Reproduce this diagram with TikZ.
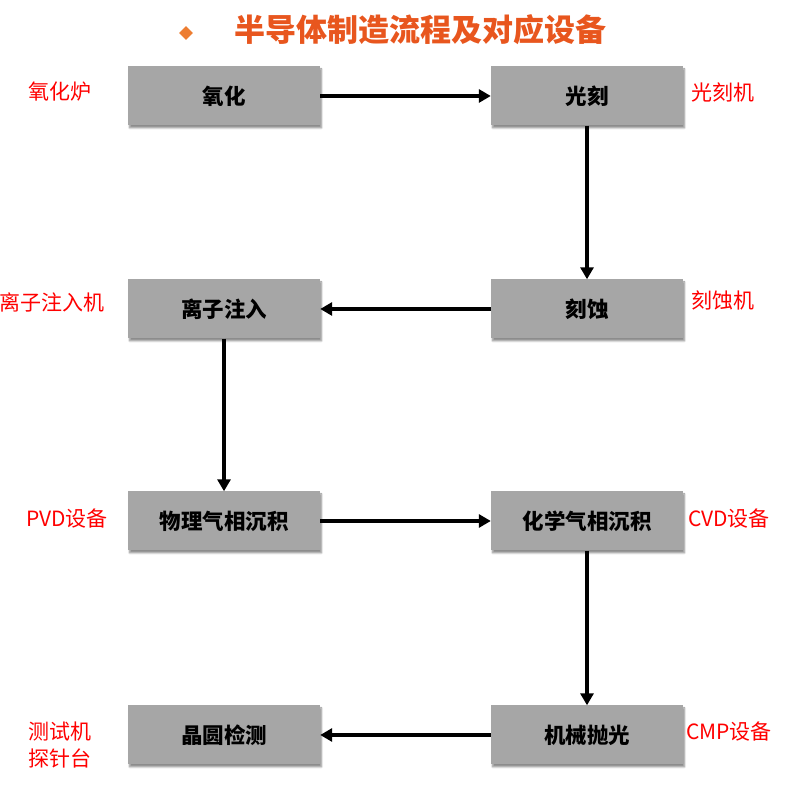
\documentclass[tikz,border=0pt]{standalone}
\usepackage{fontspec}
\newfontfamily\cjk{Noto Sans CJK SC}
\usepackage{color}
\definecolor{boxgray}{RGB}{166,166,166}
\definecolor{titleorange}{RGB}{232,86,30}
\definecolor{dotorange}{RGB}{237,125,49}
\definecolor{labelred}{RGB}{255,0,0}
\usepackage{tikz}
\usetikzlibrary{arrows.meta}
\usetikzlibrary{shadows.blur}
\usetikzlibrary{shapes.geometric}
\newcommand{\widthstep}{192pt}
\newcommand{\heightstep}{59pt}
\tikzset{
    stepbox/.style={rectangle, fill=boxgray, minimum width=\widthstep, minimum height=\heightstep,
        font=\cjk\bfseries\fontsize{21.5}{24}\selectfont, text=black,
        blur shadow={shadow xshift=1.5pt, shadow yshift=-2.5pt, shadow blur steps=6, shadow opacity=45}},
    device/.style={text=labelred, font=\cjk\fontsize{21}{27}\selectfont, align=center},
    flow/.style={line width=3.6pt, -{Triangle[length=12pt, width=13pt]}}
}

\begin{document}
\begin{tikzpicture}[x=1pt, y=1pt]
        \useasboundingbox (0,0) rectangle (793,799);

        % title
        \node[diamond, fill=dotorange, minimum size=14pt, inner sep=0pt] (dot) at (186,766) {};
        \node[text=titleorange, font=\cjk\bfseries\fontsize{31}{34}\selectfont] (title) at (420,769) {半导体制造流程及对应设备};

        % process steps
        \node[stepbox] (ox) at (224,703) {氧化};
        \node[stepbox] (litho) at (587,703) {光刻};
        \node[stepbox] (etch) at (587,490) {刻蚀};
        \node[stepbox] (implant) at (224,490) {离子注入};
        \node[stepbox] (pvd) at (224,278) {物理气相沉积};
        \node[stepbox] (cvd) at (587,278) {化学气相沉积};
        \node[stepbox] (cmp) at (587,64) {机械抛光};
        \node[stepbox] (test) at (224,64) {晶圆检测};

        % equipment
        \node[device] (oxdev) at (60,707) {氧化炉};
        \node[device] (lithodev) at (723,707) {光刻机};
        \node[device] (implantdev) at (52,497) {离子注入机};
        \node[device] (etchdev) at (723,499) {刻蚀机};
        \node[device] (pvddev) at (67,280) {PVD设备};
        \node[device] (cvddev) at (729,280) {CVD设备};
        \node[device] (testdev) at (60,54) {测试机\\探针台};
        \node[device] (cmpdev) at (729,67) {CMP设备};

        \draw[flow] (ox) -- (litho);
        \draw[flow] (litho) -- (etch);
        \draw[flow] (etch) -- (implant);
        \draw[flow] (implant) -- (pvd);
        \draw[flow] (pvd) -- (cvd);
        \draw[flow] (cvd) -- (cmp);
        \draw[flow] (cmp) -- (test);
    \end{tikzpicture}
\end{document}
